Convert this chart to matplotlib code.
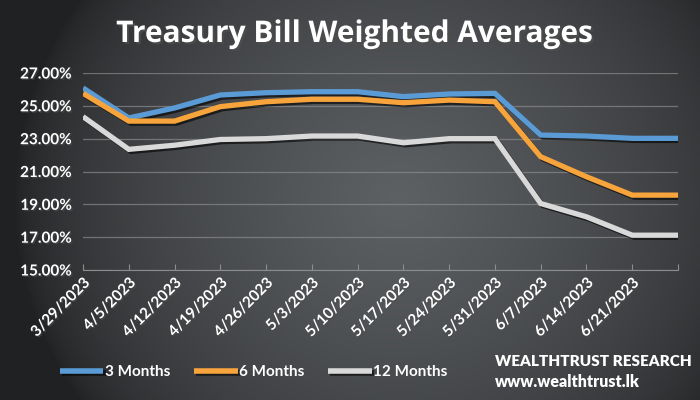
import numpy as np
import matplotlib
matplotlib.use('Agg')
import matplotlib.pyplot as plt
import matplotlib.patheffects as pe
from matplotlib.ticker import FuncFormatter

# weekly auction dates (last point has no label on the axis)
dates = ['3/29/2023', '4/5/2023', '4/12/2023', '4/19/2023', '4/26/2023', '5/3/2023',
         '5/10/2023', '5/17/2023', '5/24/2023', '5/31/2023', '6/7/2023', '6/14/2023',
         '6/21/2023', '']
months_3 = [26.09, 24.26, 24.87, 25.66, 25.80, 25.86, 25.86, 25.56, 25.72, 25.76,
            23.22, 23.16, 23.02, 23.02]
months_6 = [25.76, 24.07, 24.07, 24.95, 25.25, 25.40, 25.40, 25.19, 25.35, 25.25,
            21.90, 20.68, 19.56, 19.56]
months_12 = [24.34, 22.35, 22.60, 22.95, 23.00, 23.16, 23.16, 22.75, 23.00, 23.00,
             19.05, 18.24, 17.12, 17.12]
series_names = ['3 Months', '6 Months', '12 Months']
series_colors = ['#5b9bd5', '#f7a43c', '#d9d9d9']

plt.rcParams['font.family'] = ['Lato', 'DejaVu Sans']

fig = plt.figure(figsize=(7, 4), dpi=100)

# dark background with a soft light patch in the middle
bg = fig.add_axes([0, 0, 1, 1], zorder=-10)
xx, yy = np.meshgrid(np.linspace(0, 1, 350), np.linspace(0, 1, 200))
r = np.sqrt(((xx - 0.57) / 0.55) ** 2 + ((yy - 0.5) / 0.9) ** 2)
shade = np.clip(1 - r, 0, 1) ** 0.6
dark = np.array([0x20, 0x21, 0x23]) / 255
light = np.array([0x5e, 0x61, 0x64]) / 255
img = dark + (light - dark) * shade[..., None]
bg.imshow(img, extent=[0, 1, 0, 1], aspect='auto', origin='lower')
bg.axis('off')

ax = fig.add_axes([0.1186, 0.325, 0.85, 0.4925])
ax.patch.set_alpha(0)

x = np.arange(len(dates))
shadow = [pe.SimpleLineShadow(offset=(1.5, -1.5), shadow_color='black', alpha=0.6), pe.Normal()]
for vals, name, col in zip([months_3, months_6, months_12], series_names, series_colors):
    ax.plot(x, vals, color=col, lw=3.8, label=name, solid_capstyle='butt',
            solid_joinstyle='miter', path_effects=shadow)

ax.set_xlim(0, len(dates) - 1)
ax.set_ylim(15, 27)
ax.set_yticks(np.arange(15, 28, 2))
ax.yaxis.set_major_formatter(FuncFormatter(lambda v, p: f'{v:.2f}%'))
ax.set_xticks(x)
ax.set_xticklabels(dates, rotation=45, ha='right', va='top', rotation_mode='anchor')

ax.grid(axis='y', color='#8a8c8e', lw=0.9, alpha=0.7)
ax.set_axisbelow(True)
for s in ['top', 'right', 'left']:
    ax.spines[s].set_visible(False)
ax.spines['bottom'].set_color('#8a8c8e')
ax.tick_params(axis='y', length=0, colors='white', labelsize=11, pad=8)
ax.tick_params(axis='x', length=4, direction='in', color='#8a8c8e', colors='white',
               labelsize=11, pad=4)
for lbl in ax.get_xticklabels() + ax.get_yticklabels():
    lbl.set_fontweight('bold')
    lbl.set_path_effects([pe.withSimplePatchShadow(offset=(1, -1), alpha=0.6)])

title = fig.text(0.507, 0.915, 'Treasury Bill Weighted Averages', color='white',
                 fontsize=21.5, fontweight='bold', ha='center', va='center',
                 family=['Open Sans', 'DejaVu Sans'])
title.set_path_effects([pe.withSimplePatchShadow(offset=(1.5, -1.5), alpha=0.8)])

leg = fig.legend(loc='center left', bbox_to_anchor=(0.066, 0.07), ncol=3, frameon=False,
                 handlelength=2.85, handletextpad=0.1, columnspacing=1.55,
                 prop={'size': 11, 'weight': 'bold'})
for t in leg.get_texts():
    t.set_color('white')
for h in leg.get_lines():
    h.set_linewidth(4)

fig.text(0.707, 0.095, 'WEALTHTRUST RESEARCH', color='white', fontsize=11,
         fontweight='heavy', ha='left', va='center')
fig.text(0.707, 0.045, 'www.wealthtrust.lk', color='white', fontsize=11.5,
         fontweight='heavy', ha='left', va='center')

fig.savefig('out.png', dpi=100)
